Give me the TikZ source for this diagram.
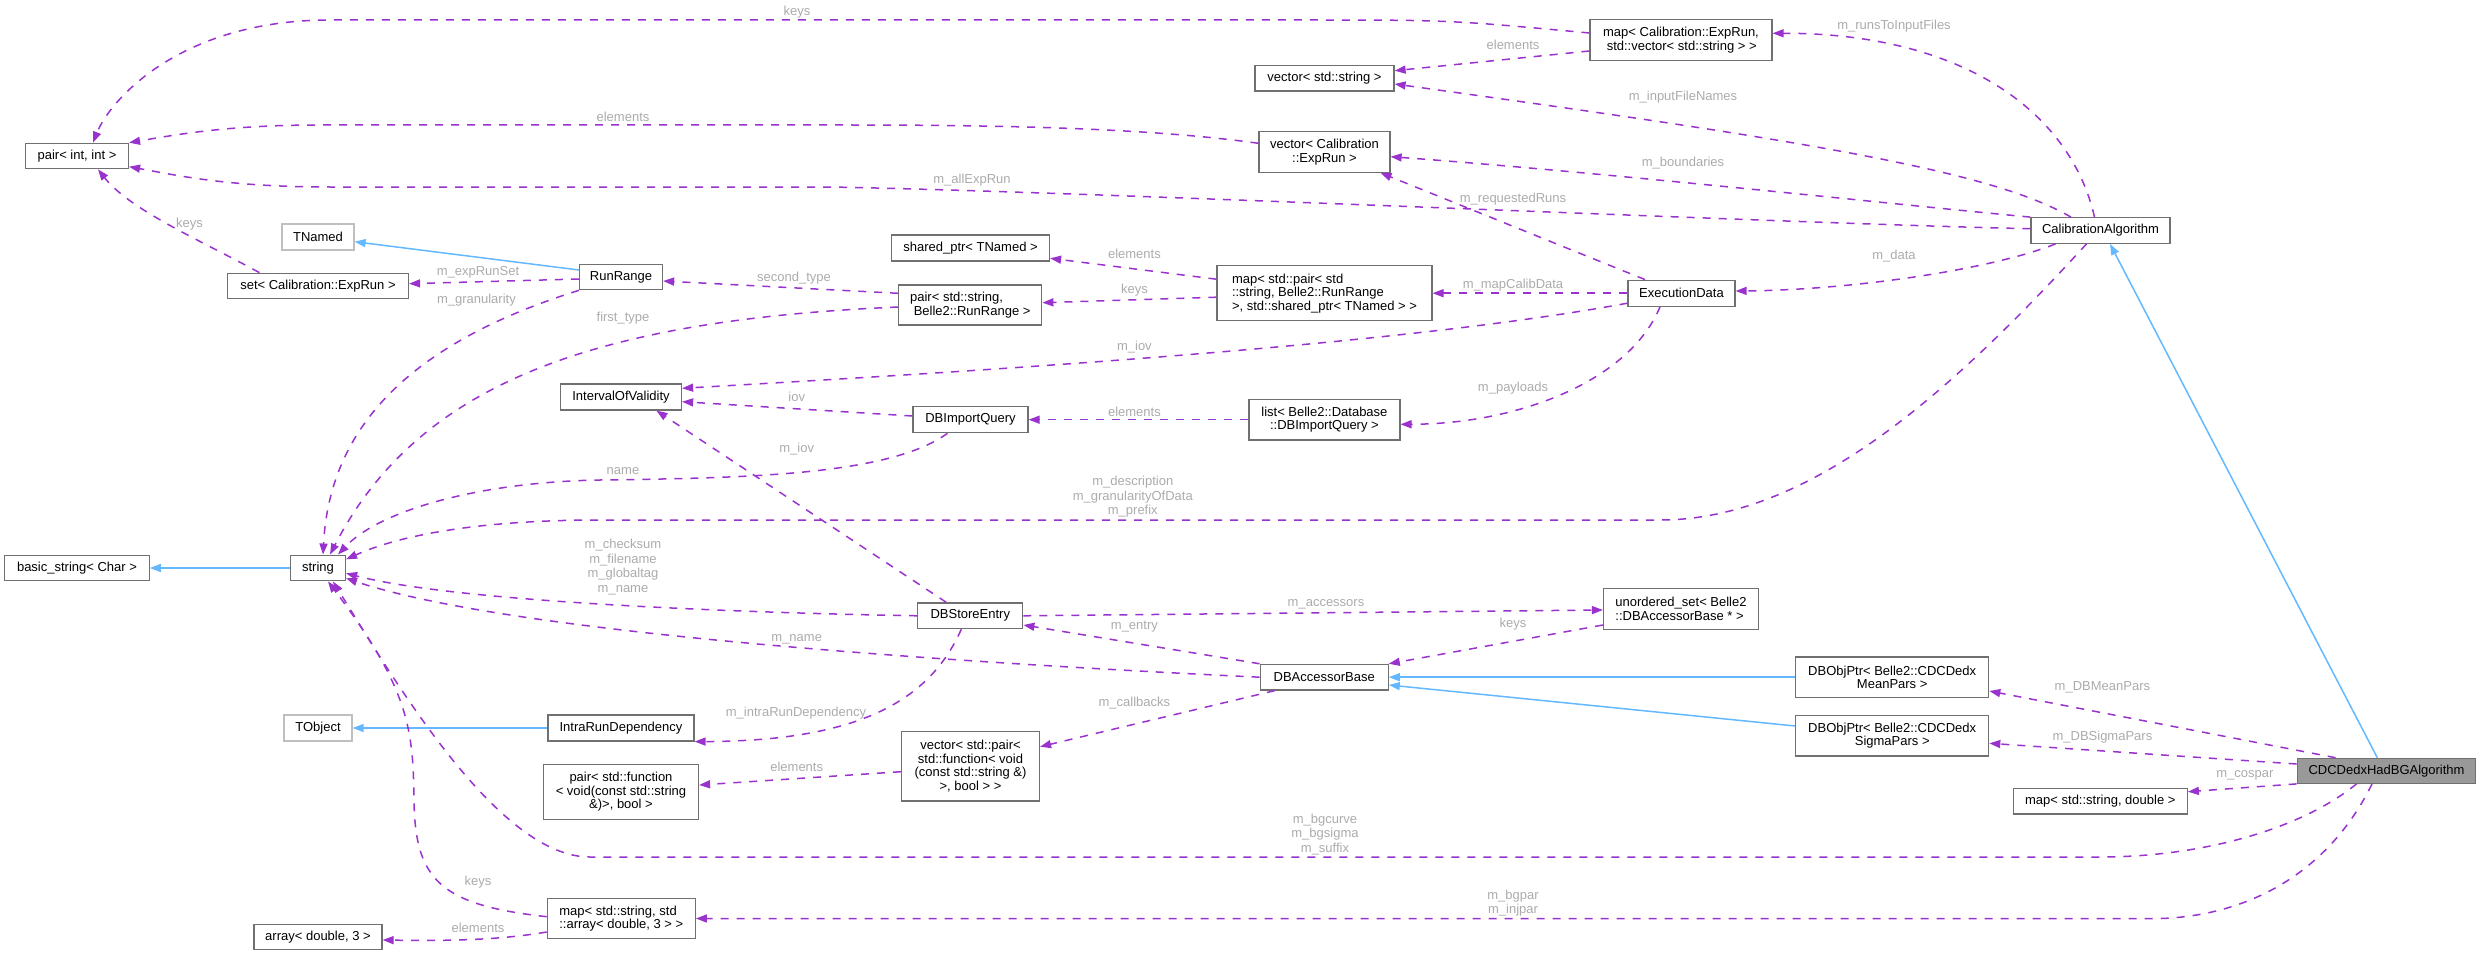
\documentclass[tikz,border=0pt]{standalone}
\usepackage{fontspec}
\setmainfont{Liberation Sans}
\usetikzlibrary{arrows.meta,calc}
\definecolor{purp}{HTML}{9A32CD}
\definecolor{blu}{HTML}{63B8FF}
\definecolor{boxgray}{HTML}{707070}
\definecolor{extgray}{HTML}{BFBFBF}
\definecolor{lblgray}{HTML}{ABABAB}
\definecolor{cdcfill}{HTML}{999999}
\newcommand{\nf}{\fontsize{13}{13.5}\selectfont}
\newcommand{\lf}{\fontsize{13}{14.6}\selectfont}
\tikzset{
  cls/.style={draw=boxgray, line width=1.2pt, fill=white, inner sep=0pt, font=\nf, align=center},
  ext/.style={cls, draw=extgray},
  lbl/.style={font=\lf, text=lblgray, inner sep=0pt, align=center},
  use/.style={draw=purp, line width=1.5pt, dash pattern=on 8pt off 8pt, -{Triangle[length=11pt,width=8pt]}},
  inh/.style={draw=blu, line width=1.5pt, -{Triangle[length=11pt,width=8pt]}},
}
\begin{document}
\begin{tikzpicture}[x=1pt,y=-1pt]
\useasboundingbox (0,0) rectangle (2481,955);
% nodes
\node[cls, minimum width=103, minimum height=25.5] (pairII) at (77,156) {pair< int, int >};
\node[ext, minimum width=72, minimum height=26] (TNamed) at (318,237) {TNamed};
\node[cls, minimum width=181, minimum height=25.5] (setER) at (318,286) {set< Calibration::ExpRun >};
\node[cls, minimum width=83, minimum height=25.5] (RunRange) at (621,277) {RunRange};
\node[cls, minimum width=121, minimum height=26] (IOV) at (621,397) {IntervalOfValidity};
\node[cls, align=left, minimum width=182, minimum height=40.5] (mapER) at (1681,40) {map< Calibration::ExpRun,\\ \ std::vector< std::string > >};
\node[cls, minimum width=139, minimum height=25.5] (vecStr) at (1324.5,78.3) {vector< std::string >};
\node[cls, minimum width=131, minimum height=40.5] (vecER) at (1324.5,152) {vector< Calibration\\::ExpRun >};
\node[cls, minimum width=158, minimum height=26] (sharedPtr) at (970.5,248) {shared\_ptr< TNamed >};
\node[cls, align=left, minimum width=143, minimum height=40] (pairSR) at (970.3,305) {pair< std::string,\\ \ Belle2::RunRange >};
\node[cls, align=left, minimum width=215, minimum height=55] (mapPair) at (1324.5,293.2) {map< std::pair< std\\::string, Belle2::RunRange\\ >, std::shared\_ptr< TNamed > >};
\node[cls, minimum width=107, minimum height=26] (ExecData) at (1681.5,293.2) {ExecutionData};
\node[cls, minimum width=115, minimum height=26] (DBImportQuery) at (970.5,419.7) {DBImportQuery};
\node[cls, minimum width=151, minimum height=40.5] (listDB) at (1324.4,419.7) {list< Belle2::Database\\::DBImportQuery >};
\node[cls, minimum width=139, minimum height=25.6] (CalibAlg) at (2100.5,230.5) {CalibrationAlgorithm};
\node[cls, minimum width=144.5, minimum height=25.7] (basicStr) at (77,568) {basic\_string< Char >};
\node[cls, minimum width=55, minimum height=25.7] (string) at (318,568) {string};
\node[ext, minimum width=68, minimum height=26] (TObject) at (318,728) {TObject};
\node[cls, minimum width=146, minimum height=26] (IntraRun) at (621,728) {IntraRunDependency};
\node[cls, minimum width=155, minimum height=55] (pairFn) at (621,791.7) {pair< std::function\\< void(const std::string\\\&)>, bool >};
\node[cls, align=left, minimum width=148, minimum height=40.4] (mapArr) at (621.3,918.5) {map< std::string, std\\::array< double, 3 > >};
\node[cls, minimum width=128, minimum height=25.7] (arrD3) at (318,937) {array< double, 3 >};
\node[cls, minimum width=105, minimum height=25.7] (DBStore) at (970.3,615.8) {DBStoreEntry};
\node[cls, align=left, minimum width=155, minimum height=40.6] (unordSet) at (1681,609) {unordered\_set< Belle2\\::DBAccessorBase * >};
\node[cls, minimum width=128, minimum height=25.7] (DBAccBase) at (1324.2,677.2) {DBAccessorBase};
\node[cls, minimum width=138, minimum height=69.3] (vecPair) at (970.5,766.3) {vector< std::pair<\\std::function< void\\(const std::string \&)\\>, bool > >};
\node[cls, minimum width=193, minimum height=40.3] (DBMean) at (1892.2,677.2) {DBObjPtr< Belle2::CDCDedx\\MeanPars >};
\node[cls, minimum width=193, minimum height=40.3] (DBSigma) at (1892.2,735.8) {DBObjPtr< Belle2::CDCDedx\\SigmaPars >};
\node[cls, minimum width=174, minimum height=25.7] (mapSD) at (2100.3,801.2) {map< std::string, double >};
\node[cls, fill=cdcfill, minimum width=178.5, minimum height=25] (CDC) at (2386.5,770.8) {CDCDedxHadBGAlgorithm};
% inheritance edges
\draw[inh] ($(RunRange.west)+(0,-7)$) -- ($(TNamed.east)+(0,4.7)$);
\draw[inh] (IntraRun.west) -- (TObject.east);
\draw[inh] (string.west) -- (basicStr.east);
\draw[inh] (DBMean.west) -- (DBAccBase.east);
\draw[inh] ($(DBSigma.west)+(0,-9.8)$) -- ($(DBAccBase.east)+(0,7.8)$);
\draw[inh] ($(CDC.north)+(-9.2,0)$) -- ($(CalibAlg.south)+(9.5,0)$);
% usage edges
\draw[use] ($(mapER.west)+(0,-7)$) .. controls (1450,20) .. (1300,20) -- (330,20) .. controls (180,20) and (110,100) .. ($(pairII.north)+(16,0)$);
\draw[use] ($(mapER.west)+(0,11)$) -- ($(vecStr.east)+(0,-7.6)$);
\draw[use] ($(vecER.west)+(0,-8.7)$) .. controls (1150,128) and (1000,125) .. (850,125) -- (320,125) .. controls (230,125) and (180,134) .. (pairII.north east);
\draw[use] ($(CalibAlg.north)+(-6,0)$) .. controls (2070,110) and (1960,33) .. ($(mapER.east)+(0,-6.7)$);
\draw[use] ($(CalibAlg.north)+(-29.5,0)$) .. controls (1990,170) and (1800,140) .. ($(vecStr.east)+(0,5.7)$);
\draw[use] (CalibAlg.north west) .. controls (1900,205) and (1600,172) .. ($(vecER.east)+(0,4.7)$);
\draw[use] ($(CalibAlg.west)+(0,-1.8)$) .. controls (1800,224) and (1100,192) .. (830,187) -- (330,187) .. controls (230,187) and (180,176) .. ($(pairII.east)+(0,10.7)$);
\draw[use] ($(CalibAlg.south)+(-45,0)$) .. controls (1990,270) and (1850,290) .. ($(ExecData.east)+(0,-2.2)$);
\draw[use] ($(ExecData.north)+(-36.5,0)$) -- ($(vecER.south)+(56,0)$);
\draw[use] (ExecData.west) -- (mapPair.east);
\draw[use] ($(ExecData.west)+(0,10)$) .. controls (1400,345) and (1000,370) .. ($(IOV.east)+(0,-8.7)$);
\draw[use] ($(ExecData.south)+(-21.5,0)$) .. controls (1630,380) and (1520,424) .. ($(listDB.east)+(0,4.6)$);
\draw[use] ($(mapPair.west)+(0,-14)$) -- ($(sharedPtr.east)+(0,10.3)$);
\draw[use] ($(mapPair.west)+(0,4)$) -- ($(pairSR.east)+(0,-2.3)$);
\draw[use] ($(pairSR.west)+(0,-11.7)$) -- ($(RunRange.east)+(0,4)$);
\draw[use] ($(pairSR.west)+(0,2)$) .. controls (600,320) and (420,380) .. ($(string.north)+(12,0)$);
\draw[use] ($(RunRange.west)+(0,2)$) -- ($(setER.east)+(0,-2.3)$);
\draw[use] ($(setER.north)+(-58.6,0)$) .. controls (200,240) and (130,210) .. ($(pairII.south)+(21,0)$);
\draw[use] (RunRange.south west) .. controls (420,340) and (330,420) .. ($(string.north)+(5,0)$);
\draw[use] ($(DBImportQuery.west)+(0,-3.7)$) -- ($(IOV.east)+(0,4.7)$);
\draw[use] ($(DBImportQuery.south)+(-23,0)$) .. controls (890,475) and (750,478) .. (600,480) .. controls (480,482) and (380,510) .. ($(string.north)+(20,0)$);
\draw[use] (listDB.west) -- (DBImportQuery.east);
\draw[use] ($(DBStore.north)+(-24,0)$) -- ($(IOV.south)+(35.4,0)$);
\draw[use] (DBStore.west) .. controls (700,612) and (450,600) .. ($(string.east)+(0,5.3)$);
\draw[use] (DBStore.east) -- ($(unordSet.west)+(0,1)$);
\draw[use] ($(DBStore.south)+(-9,0)$) .. controls (930,700) and (860,741) .. (IntraRun.south east);
\draw[use] (DBAccBase.north west) -- ($(DBStore.east)+(0,9.2)$);
\draw[use] (DBAccBase.west) .. controls (900,660) and (500,630) .. ($(string.east)+(0,10.3)$);
\draw[use] ($(DBAccBase.south)+(-49.5,0)$) -- ($(vecPair.east)+(0,-19.6)$);
\draw[use] ($(vecPair.west)+(0,5.4)$) -- ($(pairFn.east)+(0,-6.7)$);
\draw[use] ($(unordSet.west)+(0,16)$) -- (DBAccBase.north east);
\draw[use] ($(CDC.north)+(-51,0)$) -- ($(DBMean.east)+(0,13.8)$);
\draw[use] ($(CDC.west)+(0,-6.8)$) -- ($(DBSigma.east)+(0,7.5)$);
\draw[use] (CDC.south west) -- ($(mapSD.east)+(0,-9.5)$);
\draw[use] ($(CDC.south)+(-30,0)$) .. controls (2300,830) and (2200,857) .. (2100,857) -- (590,857) .. controls (500,857) and (400,690) .. ($(string.south)+(15,0)$);
\draw[use] ($(CDC.south)+(-14.5,0)$) .. controls (2330,870) and (2250,918.7) .. (2150,918.7) -- (mapArr.east);
\draw[use] ($(CalibAlg.south)+(-14,0)$) .. controls (1951,392) and (1810,520) .. (1660,520) -- (600,520) .. controls (480,520) and (400,535) .. ($(string.east)+(0,-8.7)$);
\draw[use] ($(mapArr.west)+(0,-1.8)$) .. controls (440,905) and (415,880) .. (414,800) .. controls (413,730) and (410,690) .. ($(string.south)+(10,0)$);
\draw[use] ($(mapArr.west)+(0,13.5)$) .. controls (500,940) and (450,941) .. ($(arrD3.east)+(0,3)$);
% labels
\node[lbl] (l1) at (797,11.7) {keys};
\node[lbl] (l2) at (1513,45) {elements};
\node[lbl] (l3) at (623,117) {elements};
\node[lbl] (l4) at (1894,26) {m\_runsToInputFiles};
\node[lbl] (l5) at (1683,96.7) {m\_inputFileNames};
\node[lbl] (l6) at (1683,163.3) {m\_boundaries};
\node[lbl] (l7) at (972,180) {m\_allExpRun};
\node[lbl] (l8) at (1894,256) {m\_data};
\node[lbl] (l9) at (1513,198.7) {m\_requestedRuns};
\node[lbl] (l10) at (1513,285) {m\_mapCalibData};
\node[lbl] (l11) at (1134.4,346.7) {m\_iov};
\node[lbl] (l12) at (1513,387.7) {m\_payloads};
\node[lbl] (l13) at (1134.4,254.3) {elements};
\node[lbl] (l14) at (1134.4,290.3) {keys};
\node[lbl] (l15) at (794,278.3) {second\_type};
\node[lbl] (l16) at (623,318.3) {first\_type};
\node[lbl] (l17) at (478,272.7) {m\_expRunSet};
\node[lbl] (l18) at (189.5,224) {keys};
\node[lbl] (l19) at (476.4,300) {m\_granularity};
\node[lbl] (l20) at (796.7,396.7) {iov};
\node[lbl] (l21) at (623,470.7) {name};
\node[lbl] (l22) at (1134.4,411.7) {elements};
\node[lbl] (l23) at (796.7,449) {m\_iov};
\node[lbl] (l24) at (623,567.2) {m\_checksum\\m\_filename\\m\_globaltag\\m\_name};
\node[lbl] (l25) at (1326,604) {m\_accessors};
\node[lbl] (l26) at (796,713.3) {m\_intraRunDependency};
\node[lbl] (l27) at (1134.4,626.7) {m\_entry};
\node[lbl] (l28) at (796.7,639) {m\_name};
\node[lbl] (l29) at (1134.4,702.7) {m\_callbacks};
\node[lbl] (l30) at (796.7,766.7) {elements};
\node[lbl] (l31) at (1513,624) {keys};
\node[lbl] (l32) at (2102.4,687.7) {m\_DBMeanPars};
\node[lbl] (l33) at (2102.4,736.7) {m\_DBSigmaPars};
\node[lbl] (l34) at (2244.8,775.7) {m\_cospar};
\node[lbl] (l35) at (1325,834.3) {m\_bgcurve\\m\_bgsigma\\m\_suffix};
\node[lbl] (l36) at (1513,903.3) {m\_bgpar\\m\_injpar};
\node[lbl] (l37) at (478,882.3) {keys};
\node[lbl] (l38) at (478,927.7) {elements};
\node[lbl] (l39) at (1132.8,496.7) {m\_description\\m\_granularityOfData\\m\_prefix};
\end{tikzpicture}
\end{document}
